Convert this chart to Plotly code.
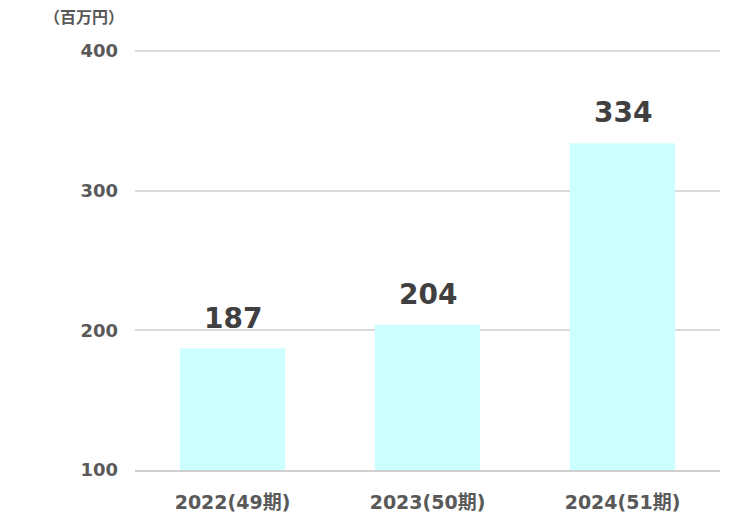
import plotly.graph_objects as go

# 売上高の推移 (百万円)
periods = ["2022(49期)", "2023(50期)", "2024(51期)"]
sales = [187, 204, 334]
y_ticks = [100, 200, 300, 400]

FONT = "DejaVu Sans, Noto Sans CJK JP, sans-serif"

fig = go.Figure(
    go.Bar(
        x=periods,
        y=sales,
        width=0.54,
        marker=dict(color="#CCFFFF", line=dict(width=0)),
        hoverinfo="x+y",
    )
)

# value labels above the bars, placed from the data
value_labels = [
    dict(
        x=p, y=v, text=str(v), xref="x", yref="y",
        xanchor="center", yanchor="bottom", yshift=12,
        showarrow=False,
        font=dict(family=FONT, size=28, color="#404040", weight="bold"),
    )
    for p, v in zip(periods, sales)
]

fig.update_layout(
    width=745,
    height=525,
    margin=dict(l=135, r=25, t=49, b=55),
    paper_bgcolor="white",
    plot_bgcolor="white",
    showlegend=False,
    font=dict(family=FONT),
    annotations=value_labels + [
        dict(
            text="（百万円）", xref="paper", yref="paper",
            x=-0.015, y=1.0, yshift=32, xanchor="right", yanchor="middle",
            showarrow=False,
            font=dict(family=FONT, size=16, color="#595959", weight="bold"),
        )
    ],
)

# top of range nudged above 400 so plotly keeps the 400 gridline
fig.update_yaxes(
    range=[100, 401.5],
    tickvals=y_ticks,
    showgrid=True,
    gridcolor="#D9D9D9",
    gridwidth=1.5,
    zeroline=False,
    showline=False,
    ticklabelstandoff=16,
    tickfont=dict(family=FONT, size=18, color="#595959", weight="bold"),
)
fig.update_xaxes(
    showline=True,
    linecolor="#D0D0D0",
    linewidth=1.5,
    ticks="",
    ticklabelstandoff=14,
    tickfont=dict(family=FONT, size=19, color="#595959", weight="bold"),
)

# drop the default 8px body margin so the figure sits at the window origin
fig.write_html(
    "out.html",
    config={"displayModeBar": False},
    post_script="document.body.style.margin='0';",
)
